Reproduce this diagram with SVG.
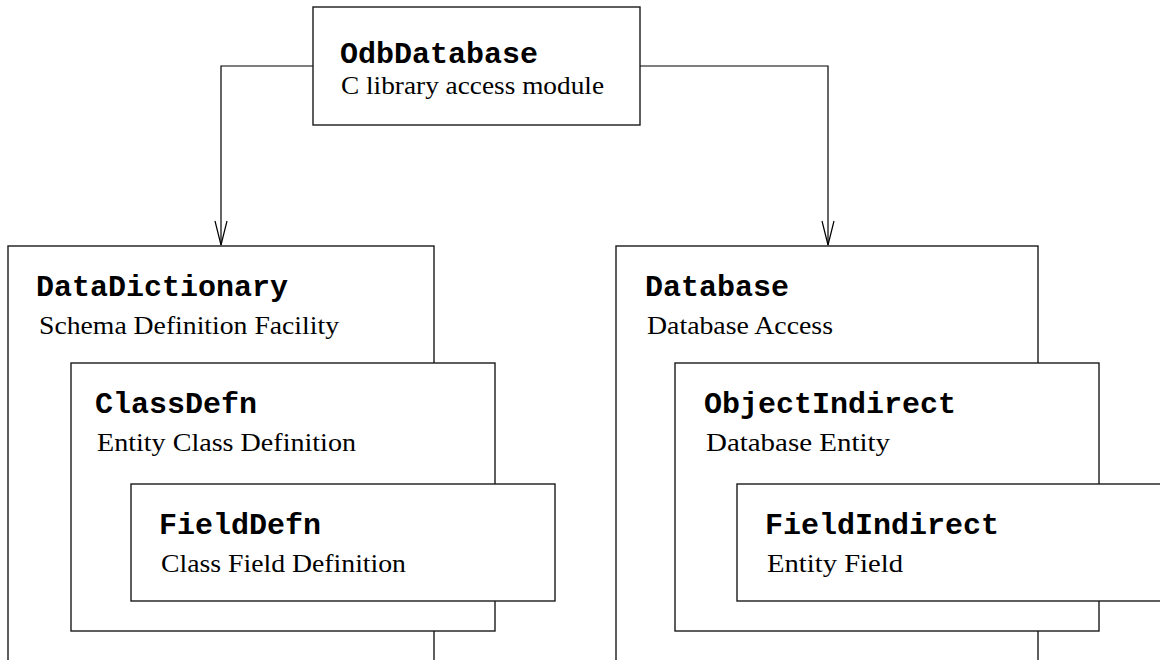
<svg xmlns="http://www.w3.org/2000/svg" width="1160" height="660" viewBox="0 0 1160 660">
  <style>
    .box { fill: #ffffff; stroke: #1a1a1a; stroke-width: 1.4; }
    .name { font-family: "Liberation Mono", "Courier New", monospace; font-weight: bold; font-size: 30px; fill: #000; }
    .desc { font-family: "Liberation Serif", "Times New Roman", serif; font-size: 26px; fill: #000; }
    .wire { fill: none; stroke: #000; stroke-width: 1.2; }
  </style>
  <defs>
    <!-- open vee arrowhead, drawn along +x so orient="auto" turns it with the line -->
    <marker id="vee" viewBox="0 0 26 14" refX="25" refY="7" markerWidth="26" markerHeight="14" markerUnits="userSpaceOnUse" orient="auto">
      <path d="M1,1 L25,7 L1,13" fill="none" stroke="#000" stroke-width="1.2"/>
    </marker>
  </defs>
  <rect width="1160" height="660" fill="#ffffff"/>

  <!-- connectors from the access module down to the two subsystems -->
  <g id="connectors">
    <path class="wire" d="M313,66 H221 V245" marker-end="url(#vee)"/>
    <path class="wire" d="M640,66 H828 V245" marker-end="url(#vee)"/>
  </g>

  <g id="odb-database">
    <rect class="box" x="313" y="7" width="327" height="118"/>
    <text class="name" x="340" y="63">OdbDatabase</text>
    <text class="desc" x="341" y="94" textLength="263" lengthAdjust="spacingAndGlyphs">C library access module</text>
  </g>

  <!-- left column: schema definition -->
  <g id="data-dictionary">
    <rect class="box" x="8" y="246" width="426" height="480"/>
    <text class="name" x="36" y="296">DataDictionary</text>
    <text class="desc" x="39" y="334" textLength="300" lengthAdjust="spacingAndGlyphs">Schema Definition Facility</text>
  </g>
  <g id="class-defn">
    <rect class="box" x="71" y="363" width="424" height="268"/>
    <text class="name" x="95" y="413">ClassDefn</text>
    <text class="desc" x="97" y="451" textLength="259" lengthAdjust="spacingAndGlyphs">Entity Class Definition</text>
  </g>
  <g id="field-defn">
    <rect class="box" x="131" y="484" width="424" height="117"/>
    <text class="name" x="159" y="534">FieldDefn</text>
    <text class="desc" x="161" y="572" textLength="245" lengthAdjust="spacingAndGlyphs">Class Field Definition</text>
  </g>

  <!-- right column: database access -->
  <g id="database">
    <rect class="box" x="616" y="246" width="422" height="480"/>
    <text class="name" x="645" y="296">Database</text>
    <text class="desc" x="647" y="334" textLength="186" lengthAdjust="spacingAndGlyphs">Database Access</text>
  </g>
  <g id="object-indirect">
    <rect class="box" x="675" y="363" width="424" height="268"/>
    <text class="name" x="704" y="413">ObjectIndirect</text>
    <text class="desc" x="706" y="451" textLength="184" lengthAdjust="spacingAndGlyphs">Database Entity</text>
  </g>
  <g id="field-indirect">
    <rect class="box" x="737" y="484" width="480" height="117"/>
    <text class="name" x="765" y="534">FieldIndirect</text>
    <text class="desc" x="767" y="572" textLength="136" lengthAdjust="spacingAndGlyphs">Entity Field</text>
  </g>
</svg>
